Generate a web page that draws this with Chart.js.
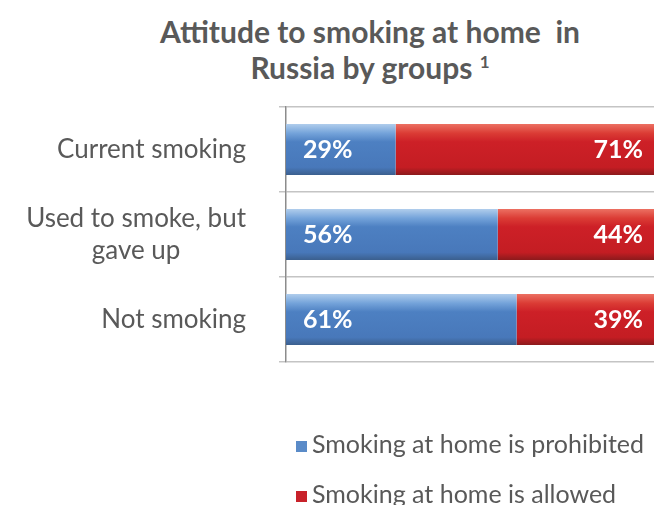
<!DOCTYPE html>
<html>
<head>
<meta charset="utf-8">
<script src="https://cdn.jsdelivr.net/npm/chart.js@4"></script>
<style>
  html, body { margin: 0; padding: 0; background: #fff; }
  #page { position: relative; width: 654px; height: 505px; overflow: hidden; font-family: Lato, "Open Sans", sans-serif; color: #595959; }
  #title { position: absolute; left: 70px; width: 600px; top: 13px; text-align: center; font-weight: bold; font-size: 30px; line-height: 36px; }
  #title sup { font-size: 17px; vertical-align: 11px; line-height: 0; }
  #chartBox { position: absolute; left: 0; top: 0; width: 680px; height: 505px; }
  #legend { position: absolute; left: 296px; top: 425px; font-size: 25px; }
  #legend div { height: 50px; line-height: 36px; white-space: nowrap; }
  #legend span.box { display: inline-block; width: 11px; height: 11px; margin-right: 5px; vertical-align: 1px; }
</style>
</head>
<body>
<div id="page">
  <div id="title">Attitude to smoking at home&nbsp; in<br>Russia by groups <sup>1</sup></div>
  <div id="chartBox"><canvas id="smokeChart" width="680" height="505"></canvas></div>
  <div id="legend"></div>
</div>
<script>
// data
const groups = [["Current smoking"], ["Used to smoke, but", "gave up"], ["Not smoking"]];
const prohibited = [29, 56, 61];
const allowed = [71, 44, 39];
const seriesNames = ["Smoking at home is prohibited", "Smoking at home is allowed"];

const blueStops = ["#b0cdec", "#74a3da", "#4d80c2", "#4878ba", "#3b5f8e"];
const redStops = ["#ec7062", "#db3c35", "#cd2027", "#c41d23", "#8c1a1c"];

const barPct = 0.6;

// vertical gradient for each bar, like the Excel bevel
function barFill(stops) {
  return function (c) {
    const chart = c.chart;
    if (!chart.chartArea || c.type !== "data") return stops[2];
    const yScale = chart.scales.y;
    const y = yScale.getPixelForValue(c.dataIndex);
    const half = (chart.chartArea.height / groups.length) * barPct / 2;
    const g = chart.ctx.createLinearGradient(0, y - half, 0, y + half);
    g.addColorStop(0, stops[0]);
    g.addColorStop(0.18, stops[1]);
    g.addColorStop(0.35, stops[2]);
    g.addColorStop(0.85, stops[3]);
    g.addColorStop(1, stops[4]);
    return g;
  };
}

// category labels: block right aligned, lines centred inside the block
const categoryLabels = {
  id: "categoryLabels",
  afterDraw(chart) {
    const ctx = chart.ctx;
    const yScale = chart.scales.y;
    const right = yScale.right - 40;
    const lineH = 32;
    ctx.save();
    ctx.font = "26px Lato";
    ctx.fillStyle = "#595959";
    ctx.textAlign = "center";
    ctx.textBaseline = "middle";
    groups.forEach((lines, i) => {
      const y = yScale.getPixelForValue(i);
      const w = Math.max(...lines.map(l => ctx.measureText(l).width));
      const cx = right - w / 2;
      const y0 = y - (lines.length - 1) * lineH / 2;
      lines.forEach((l, k) => ctx.fillText(l, cx, y0 + k * lineH));
    });
    ctx.restore();
  }
};

// percentage labels inside bars
const valueLabels = {
  id: "valueLabels",
  afterDatasetsDraw(chart) {
    const ctx = chart.ctx;
    ctx.save();
    ctx.font = "bold 25px Lato";
    ctx.fillStyle = "#ffffff";
    ctx.textBaseline = "middle";
    chart.getDatasetMeta(0).data.forEach((bar, i) => {
      ctx.textAlign = "left";
      ctx.fillText(prohibited[i] + "%", bar.base + 17, bar.y);
    });
    chart.getDatasetMeta(1).data.forEach((bar, i) => {
      ctx.textAlign = "right";
      ctx.fillText(allowed[i] + "%", bar.x - 21, bar.y);
    });
    ctx.restore();
  }
};

const chart = new Chart(document.getElementById("smokeChart").getContext("2d"), {
  type: "bar",
  data: {
    labels: groups.map(g => g.join(" ")),
    datasets: [
      { label: seriesNames[0], data: prohibited, backgroundColor: barFill(blueStops), legendColor: "#5a8bc8" },
      { label: seriesNames[1], data: allowed, backgroundColor: barFill(redStops), legendColor: "#c8222a" }
    ]
  },
  options: {
    indexAxis: "y",
    responsive: false,
    animation: false,
    datasets: { bar: { barPercentage: barPct, categoryPercentage: 1 } },
    layout: { padding: { top: 107, bottom: 143, right: 16, left: 0 } },
    plugins: { legend: { display: false }, title: { display: false }, tooltip: { enabled: false } },
    scales: {
      x: { stacked: true, min: 0, max: 100, display: false },
      y: {
        stacked: true,
        afterFit: (scale) => { scale.width = 286; },
        ticks: { display: false },
        grid: { offset: true, color: "#c4c4c4", lineWidth: 1.5, tickLength: 7, drawTicks: true },
        border: { display: true, color: "#8c8c8c", width: 1.5 }
      }
    }
  },
  plugins: [categoryLabels, valueLabels]
});

// legend stacked under the plot
const legendEl = document.getElementById("legend");
chart.data.datasets.forEach(ds => {
  const row = document.createElement("div");
  row.innerHTML = '<span class="box" style="background:' + ds.legendColor + '"></span>' + ds.label;
  legendEl.appendChild(row);
});
</script>
</body>
</html>
